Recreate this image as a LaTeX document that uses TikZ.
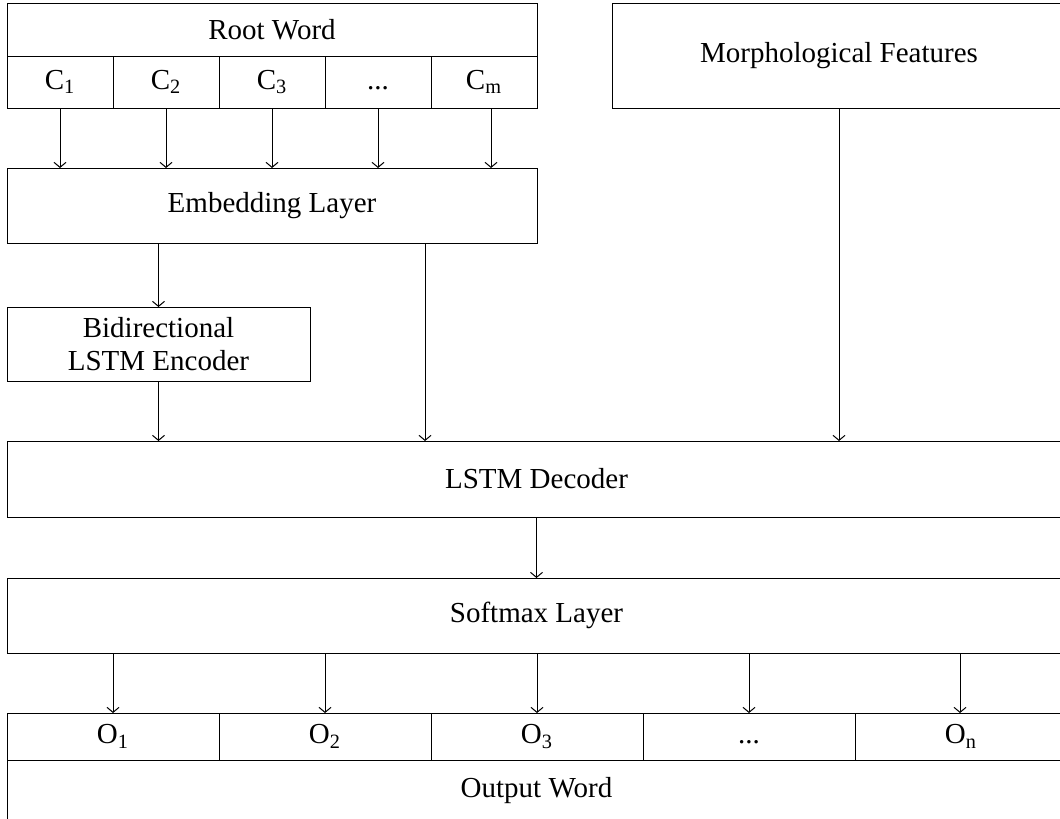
\documentclass[tikz,border=0pt]{standalone}
\usepackage{fontspec}
\setmainfont{Liberation Serif}
\usetikzlibrary{arrows.meta}
\tikzset{
  x=0.5pt, y=-0.5pt,
  box/.style={draw, line width=0.5pt, inner sep=0pt, outer sep=0pt, align=center,
              font=\fontsize{14.5}{16.5}\selectfont},
  arr/.style={line width=0.5pt, -{Straight Barb[length=2.5pt,width=6pt]}},
}
\begin{document}
\begin{tikzpicture}
\useasboundingbox (0,0) rectangle (1060,819);
\clip (0,0) rectangle (1060,819);
% Root word
\node[box, minimum width=265pt, minimum height=26.5pt] (root) at (272,29.5) {Root Word};
\node[box, minimum width=53pt, minimum height=26pt] (c1) at (60,82) {C\textsubscript{1}};
\node[box, minimum width=53pt, minimum height=26pt] (c2) at (166,82) {C\textsubscript{2}};
\node[box, minimum width=53pt, minimum height=26pt] (c3) at (272,82) {C\textsubscript{3}};
\node[box, minimum width=53pt, minimum height=26pt] (cd) at (378,82) {\vphantom{C\textsubscript{1}}...};
\node[box, minimum width=53pt, minimum height=26pt] (cm) at (484,82) {C\textsubscript{m}};
% Morphological features
\node[box, minimum width=227pt, minimum height=52.5pt] (morph) at (839,55.5) {Morphological Features};
% Embedding
\node[box, minimum width=265pt, minimum height=37.5pt] (emb) at (272,205.5) {Embedding Layer};
% BiLSTM
\node[box, minimum width=151.5pt, minimum height=37pt] (bil) at (158.5,344) {Bidirectional\\LSTM Encoder};
% Decoder
\node[box, minimum width=529.5pt, minimum height=38pt] (dec) at (536.5,479) {LSTM Decoder};
% Softmax
\node[box, minimum width=529.5pt, minimum height=37.5pt] (soft) at (536.5,615.5) {Softmax Layer};
% Output
\node[box, minimum width=106pt, minimum height=23.5pt] (o1) at (113,736.5) {O\textsubscript{1}};
\node[box, minimum width=106pt, minimum height=23.5pt] (o2) at (325,736.5) {O\textsubscript{2}};
\node[box, minimum width=106pt, minimum height=23.5pt] (o3) at (537,736.5) {O\textsubscript{3}};
\node[box, minimum width=106pt, minimum height=23.5pt] (od) at (749,736.5) {\vphantom{O\textsubscript{1}}...};
\node[box, minimum width=106pt, minimum height=23.5pt] (on) at (961,736.5) {O\textsubscript{n}};
\node[box, minimum width=529.5pt, minimum height=31pt] (outw) at (536.5,791) {Output Word};
% Arrows: characters to embedding
\foreach \c in {c1,c2,c3,cd} {
  \draw[arr] (\c.south) -- (\c.south |- emb.north);
}
\draw[arr] ([xshift=3.5pt]cm.south) -- ([xshift=3.5pt]cm.south |- emb.north);
% Embedding to encoder and decoder
\draw[arr] (bil.north |- emb.south) -- (bil.north);
\coordinate (embx) at ([xshift=76.5pt]emb.south);
\draw[arr] (embx) -- (embx |- dec.north);
\draw[arr] (bil.south) -- (bil.south |- dec.north);
\draw[arr] (morph.south) -- (morph.south |- dec.north);
% Decoder to softmax
\draw[arr] (dec.south) -- (dec.south |- soft.north);
% Softmax to outputs
\foreach \o in {o1,o2,o3,od} {
  \draw[arr] (\o.north |- soft.south) -- (\o.north);
}
\draw[arr] ([xshift=-0.5pt]on.north |- soft.south) -- ([xshift=-0.5pt]on.north);
\end{tikzpicture}
\end{document}
